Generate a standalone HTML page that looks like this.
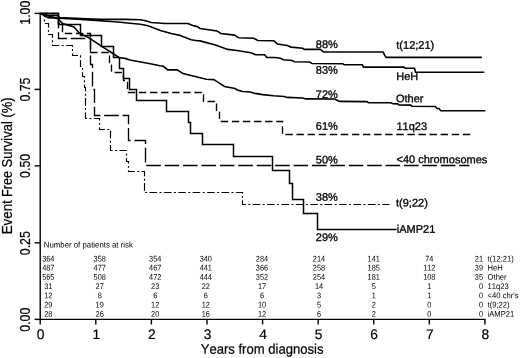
<!DOCTYPE html>
<html><head><meta charset="utf-8"><title>Event Free Survival</title>
<style>
html,body{margin:0;padding:0;background:#fff;}
body{width:520px;height:358px;overflow:hidden;}
svg{display:block;font-family:"Liberation Sans",sans-serif;will-change:transform;}
.c path{fill:none;stroke:#000;stroke-linejoin:miter;}
.a path{fill:none;stroke:#000;stroke-width:1.4;}
text{fill:#000;font-kerning:none;}
.t text{stroke:#000;}
.t{stroke-width:0.2;}
</style></head><body>
<svg width="520" height="358" viewBox="0 0 520 358">
<defs><filter id="b" x="0" y="0" width="520" height="358" filterUnits="userSpaceOnUse"><feGaussianBlur stdDeviation="0.35 0.12"/></filter></defs>
<rect width="520" height="358" fill="#fff"/>
<g filter="url(#b)">
<g class="a">
<path d="M40.2,12.7V319.4H485.6" />
<path d="M34.6,319.4H40.2"/>
<path d="M34.6,242.8H40.2"/>
<path d="M34.6,165.8H40.2"/>
<path d="M34.6,89.4H40.2"/>
<path d="M34.6,13.4H40.2"/>
<path d="M40.2,319.4V324.4"/>
<path d="M95.8,319.4V324.4"/>
<path d="M151.4,319.4V324.4"/>
<path d="M207.0,319.4V324.4"/>
<path d="M262.6,319.4V324.4"/>
<path d="M318.2,319.4V324.4"/>
<path d="M373.7,319.4V324.4"/>
<path d="M429.3,319.4V324.4"/>
<path d="M484.9,319.4V324.4"/>
</g>
<g class="c" stroke-width="1.5">
<path d="M40.2,13.4L46.0,15.3L57.8,15.6L59.5,17.5L81.0,18.6L99.5,19.3L118.0,19.4L125.0,19.4L140.4,19.7L146.5,20.9L151.2,22.5L165.0,23.5L188.0,23.5L192.7,25.5L197.3,26.6L200.0,28.5L217.0,30.9L220.8,33.5L234.6,35.1L238.5,37.8L253.8,38.2L257.7,40.5L273.8,40.8L275.5,42.2L277.3,44.0L287.3,45.5L291.2,47.1L302.7,48.2L304.2,49.4L320.4,49.4L323.5,52.0L383.1,52.0L384.6,55.1L386.2,57.4L481.8,57.4" stroke-width="1.6"/>
<path d="M40.2,13.4L48.0,17.6L58.8,18.2L81.0,19.4L99.5,20.6L118.0,22.0L125.0,22.8L140.4,24.3L148.0,25.8L160.4,30.5L171.2,33.5L178.8,35.1L191.2,39.7L197.3,40.8L200.0,40.9L215.4,45.1L227.7,49.4L236.9,50.5L250.8,52.8L255.4,54.6L264.6,54.8L266.9,57.5L275.0,57.5L280.4,58.2L283.5,59.7L292.0,60.5L294.2,61.7L309.6,62.0L312.0,63.5L342.7,63.8L344.2,64.7L362.3,64.7L363.5,67.1L403.8,67.1L405.4,68.2L414.5,68.2L415.6,72.3L484.3,72.3" stroke-width="1.6"/>
<path d="M40.2,13.4L58.0,18.8L62.6,23.6L74.0,27.0L79.5,33.4L88.6,37.6L101.0,45.8L113.7,54.0L118.9,57.5L125.0,58.4L130.0,60.0L150.3,63.8L160.0,65.8L163.0,66.1L167.7,69.9L177.0,69.9L183.0,73.5L206.2,79.3L213.8,79.6L218.5,82.7L224.6,86.5L235.0,88.5L237.3,90.0L242.7,91.5L250.4,92.0L255.0,93.4L262.7,94.6L273.5,95.8L284.2,96.5L287.3,97.4L302.7,98.0L305.8,98.9L334.6,99.0L339.6,101.4L366.9,101.6L368.5,102.7L390.8,102.8L393.0,103.8L397.7,103.9L399.0,105.0L410.8,105.1L412.0,106.3L435.4,106.5L437.0,108.4L439.0,108.6L440.8,110.8L485.4,110.8" stroke-width="1.6"/>
<path d="M40.5,13.5H58.5V24.5H80.5V35.5H101.5V46.5H113.5V57.5H119.5V68.5H123.5V78.5H129.5V89.5H136.5V100.5H166.5V111.5H188.5V122.5H190.5V133.5H202.5V144.5H233.5V156.5H272.5V170.5H289.5V183.5H292.5V199.5H303.5V213.5H317.5V229.5H396.5"/>
<path d="M40.5,13.5H58.5V23.5H62.5V33.5H90.5V52.5H109.5V62.5H111.5V72.5H123.5V80.5H127.5V92.5H203.5V101.5H216.5V111.5H219.5V121.5H282.5V134.5H470.5" stroke-dasharray="7.379 3.709" stroke-width="1.35"/>
<path d="M40.5,13.5H58.5V38.5H90.5V64.5H92.5V89.5H94.5V115.5H128.5V140.5H145.5V165.5H469.5" stroke-dasharray="14.561 3.85" stroke-width="1.35"/>
<path d="M40.5,13.5H44.5V23.5H48.5V34.5H52.5V45.5H72.5V55.5H80.5V66.5H82.5V76.5H84.5V87.5H85.5V97.5H85.5V108.5H85.5V118.5H99.5V129.5H110.5V150.5H126.5V161.5H128.5V171.5H144.5V192.5H242.5V204.5H389.5" stroke-dasharray="7.526 2.459 1.957 2.459" stroke-width="1.15"/>
</g>
<g class="t">
<text transform="translate(40.7,338.9) rotate(0.03)" font-size="13.8" text-anchor="middle">0</text>
<text transform="translate(96.3,338.9) rotate(0.03)" font-size="13.8" text-anchor="middle">1</text>
<text transform="translate(151.9,338.9) rotate(0.03)" font-size="13.8" text-anchor="middle">2</text>
<text transform="translate(207.5,338.9) rotate(0.03)" font-size="13.8" text-anchor="middle">3</text>
<text transform="translate(263.1,338.9) rotate(0.03)" font-size="13.8" text-anchor="middle">4</text>
<text transform="translate(318.7,338.9) rotate(0.03)" font-size="13.8" text-anchor="middle">5</text>
<text transform="translate(374.2,338.9) rotate(0.03)" font-size="13.8" text-anchor="middle">6</text>
<text transform="translate(429.8,338.9) rotate(0.03)" font-size="13.8" text-anchor="middle">7</text>
<text transform="translate(485.4,338.9) rotate(0.03)" font-size="13.8" text-anchor="middle">8</text>
<text transform="translate(29.5,319.7) rotate(-90) scale(0.95,1.13)" font-size="13" text-anchor="middle">0.00</text>
<text transform="translate(29.5,243.2) rotate(-90) scale(0.95,1.13)" font-size="13" text-anchor="middle">0.25</text>
<text transform="translate(29.5,165.9) rotate(-90) scale(0.95,1.13)" font-size="13" text-anchor="middle">0.50</text>
<text transform="translate(29.5,89.6) rotate(-90) scale(0.95,1.13)" font-size="13" text-anchor="middle">0.75</text>
<text transform="translate(29.5,12.7) rotate(-90) scale(0.95,1.13)" font-size="13" text-anchor="middle">1.00</text>
<text transform="translate(262.1,353.8) rotate(0.03) scale(1,1.07)" font-size="13.1" text-anchor="middle">Years from diagnosis</text>
<text transform="translate(11.9,234.3) rotate(-90) scale(1.027,1.06)" font-size="13">Event</text>
<text transform="translate(11.9,196.9) rotate(-90) scale(0.97,1.06)" font-size="13">Free</text>
<text transform="translate(11.9,167.4) rotate(-90) scale(1.0,1.06)" font-size="13">Survival</text>
<text transform="translate(11.9,117.6) rotate(-90) scale(1.0,1.06)" font-size="13">(%)</text>
<text transform="translate(315.8,48.1) rotate(0.03)" font-size="11" stroke-width="0.32">88%</text>
<text transform="translate(315.8,73.7) rotate(0.03)" font-size="11" stroke-width="0.32">83%</text>
<text transform="translate(315.8,98.0) rotate(0.03)" font-size="11" stroke-width="0.32">72%</text>
<text transform="translate(315.8,129.8) rotate(0.03)" font-size="11" stroke-width="0.32">61%</text>
<text transform="translate(315.8,163.6) rotate(0.03)" font-size="11" stroke-width="0.32">50%</text>
<text transform="translate(315.8,200.7) rotate(0.03)" font-size="11" stroke-width="0.32">38%</text>
<text transform="translate(315.8,240.9) rotate(0.03)" font-size="11" stroke-width="0.32">29%</text>
<text transform="translate(396.3,48.8) rotate(0.03)" font-size="11" stroke-width="0.32">t(12;21)</text>
<text transform="translate(396.3,80.0) rotate(0.03)" font-size="11" stroke-width="0.32">HeH</text>
<text transform="translate(396,102.3) rotate(0.03)" font-size="11" stroke-width="0.32">Other</text>
<text transform="translate(396.5,130.0) rotate(0.03)" font-size="11" stroke-width="0.32">11q23</text>
<text transform="translate(396.5,163.1) rotate(0.03)" font-size="11" stroke-width="0.32">&lt;40 chromosomes</text>
<text transform="translate(396,206.4) rotate(0.03)" font-size="11" stroke-width="0.32">t(9;22)</text>
<text transform="translate(396.8,232.7) rotate(0.03)" font-size="11" stroke-width="0.32">iAMP21</text>
</g>
<g>
<text transform="translate(43.8,247.5) rotate(0.03) scale(0.955,1)" font-size="8.2">Number of patients at risk</text>
<text transform="translate(48.3,261.5) rotate(0.03) scale(0.9,1)" font-size="8.2" text-anchor="middle">364</text>
<text transform="translate(99.7,261.5) rotate(0.03) scale(0.9,1)" font-size="8.2" text-anchor="middle">358</text>
<text transform="translate(155.2,261.5) rotate(0.03) scale(0.9,1)" font-size="8.2" text-anchor="middle">354</text>
<text transform="translate(205.8,261.5) rotate(0.03) scale(0.9,1)" font-size="8.2" text-anchor="middle">340</text>
<text transform="translate(262,261.5) rotate(0.03) scale(0.9,1)" font-size="8.2" text-anchor="middle">284</text>
<text transform="translate(319,261.5) rotate(0.03) scale(0.9,1)" font-size="8.2" text-anchor="middle">214</text>
<text transform="translate(373.7,261.5) rotate(0.03) scale(0.9,1)" font-size="8.2" text-anchor="middle">141</text>
<text transform="translate(429.3,261.5) rotate(0.03) scale(0.9,1)" font-size="8.2" text-anchor="middle">74</text>
<text transform="translate(483,261.5) rotate(0.03) scale(0.9,1)" font-size="8.2" text-anchor="end">21</text>
<text transform="translate(487.6,261.5) rotate(0.03) scale(0.93,1)" font-size="8.2">t(12;21)</text>
<text transform="translate(48.3,270.6) rotate(0.03) scale(0.9,1)" font-size="8.2" text-anchor="middle">487</text>
<text transform="translate(99.7,270.6) rotate(0.03) scale(0.9,1)" font-size="8.2" text-anchor="middle">477</text>
<text transform="translate(155.2,270.6) rotate(0.03) scale(0.9,1)" font-size="8.2" text-anchor="middle">467</text>
<text transform="translate(205.8,270.6) rotate(0.03) scale(0.9,1)" font-size="8.2" text-anchor="middle">441</text>
<text transform="translate(262,270.6) rotate(0.03) scale(0.9,1)" font-size="8.2" text-anchor="middle">366</text>
<text transform="translate(319,270.6) rotate(0.03) scale(0.9,1)" font-size="8.2" text-anchor="middle">258</text>
<text transform="translate(373.7,270.6) rotate(0.03) scale(0.9,1)" font-size="8.2" text-anchor="middle">185</text>
<text transform="translate(429.3,270.6) rotate(0.03) scale(0.9,1)" font-size="8.2" text-anchor="middle">112</text>
<text transform="translate(483,270.6) rotate(0.03) scale(0.9,1)" font-size="8.2" text-anchor="end">39</text>
<text transform="translate(487.6,270.6) rotate(0.03) scale(0.93,1)" font-size="8.2">HeH</text>
<text transform="translate(48.3,279.8) rotate(0.03) scale(0.9,1)" font-size="8.2" text-anchor="middle">565</text>
<text transform="translate(99.7,279.8) rotate(0.03) scale(0.9,1)" font-size="8.2" text-anchor="middle">508</text>
<text transform="translate(155.2,279.8) rotate(0.03) scale(0.9,1)" font-size="8.2" text-anchor="middle">472</text>
<text transform="translate(205.8,279.8) rotate(0.03) scale(0.9,1)" font-size="8.2" text-anchor="middle">444</text>
<text transform="translate(262,279.8) rotate(0.03) scale(0.9,1)" font-size="8.2" text-anchor="middle">352</text>
<text transform="translate(319,279.8) rotate(0.03) scale(0.9,1)" font-size="8.2" text-anchor="middle">254</text>
<text transform="translate(373.7,279.8) rotate(0.03) scale(0.9,1)" font-size="8.2" text-anchor="middle">181</text>
<text transform="translate(429.3,279.8) rotate(0.03) scale(0.9,1)" font-size="8.2" text-anchor="middle">108</text>
<text transform="translate(483,279.8) rotate(0.03) scale(0.9,1)" font-size="8.2" text-anchor="end">35</text>
<text transform="translate(487.6,279.8) rotate(0.03) scale(0.93,1)" font-size="8.2">Other</text>
<text transform="translate(48.3,289.1) rotate(0.03) scale(0.9,1)" font-size="8.2" text-anchor="middle">31</text>
<text transform="translate(99.7,289.1) rotate(0.03) scale(0.9,1)" font-size="8.2" text-anchor="middle">27</text>
<text transform="translate(155.2,289.1) rotate(0.03) scale(0.9,1)" font-size="8.2" text-anchor="middle">23</text>
<text transform="translate(205.8,289.1) rotate(0.03) scale(0.9,1)" font-size="8.2" text-anchor="middle">22</text>
<text transform="translate(262,289.1) rotate(0.03) scale(0.9,1)" font-size="8.2" text-anchor="middle">17</text>
<text transform="translate(319,289.1) rotate(0.03) scale(0.9,1)" font-size="8.2" text-anchor="middle">14</text>
<text transform="translate(373.7,289.1) rotate(0.03) scale(0.9,1)" font-size="8.2" text-anchor="middle">5</text>
<text transform="translate(429.3,289.1) rotate(0.03) scale(0.9,1)" font-size="8.2" text-anchor="middle">1</text>
<text transform="translate(483,289.1) rotate(0.03) scale(0.9,1)" font-size="8.2" text-anchor="end">0</text>
<text transform="translate(487.6,289.1) rotate(0.03) scale(0.93,1)" font-size="8.2">11q23</text>
<text transform="translate(48.3,298.3) rotate(0.03) scale(0.9,1)" font-size="8.2" text-anchor="middle">12</text>
<text transform="translate(99.7,298.3) rotate(0.03) scale(0.9,1)" font-size="8.2" text-anchor="middle">8</text>
<text transform="translate(155.2,298.3) rotate(0.03) scale(0.9,1)" font-size="8.2" text-anchor="middle">6</text>
<text transform="translate(205.8,298.3) rotate(0.03) scale(0.9,1)" font-size="8.2" text-anchor="middle">6</text>
<text transform="translate(262,298.3) rotate(0.03) scale(0.9,1)" font-size="8.2" text-anchor="middle">6</text>
<text transform="translate(319,298.3) rotate(0.03) scale(0.9,1)" font-size="8.2" text-anchor="middle">3</text>
<text transform="translate(373.7,298.3) rotate(0.03) scale(0.9,1)" font-size="8.2" text-anchor="middle">1</text>
<text transform="translate(429.3,298.3) rotate(0.03) scale(0.9,1)" font-size="8.2" text-anchor="middle">1</text>
<text transform="translate(483,298.3) rotate(0.03) scale(0.9,1)" font-size="8.2" text-anchor="end">0</text>
<text transform="translate(487.6,298.3) rotate(0.03) scale(0.93,1)" font-size="8.2">&lt;40 chr's</text>
<text transform="translate(48.3,307.5) rotate(0.03) scale(0.9,1)" font-size="8.2" text-anchor="middle">29</text>
<text transform="translate(99.7,307.5) rotate(0.03) scale(0.9,1)" font-size="8.2" text-anchor="middle">19</text>
<text transform="translate(155.2,307.5) rotate(0.03) scale(0.9,1)" font-size="8.2" text-anchor="middle">12</text>
<text transform="translate(205.8,307.5) rotate(0.03) scale(0.9,1)" font-size="8.2" text-anchor="middle">12</text>
<text transform="translate(262,307.5) rotate(0.03) scale(0.9,1)" font-size="8.2" text-anchor="middle">10</text>
<text transform="translate(319,307.5) rotate(0.03) scale(0.9,1)" font-size="8.2" text-anchor="middle">5</text>
<text transform="translate(373.7,307.5) rotate(0.03) scale(0.9,1)" font-size="8.2" text-anchor="middle">2</text>
<text transform="translate(429.3,307.5) rotate(0.03) scale(0.9,1)" font-size="8.2" text-anchor="middle">0</text>
<text transform="translate(483,307.5) rotate(0.03) scale(0.9,1)" font-size="8.2" text-anchor="end">0</text>
<text transform="translate(487.6,307.5) rotate(0.03) scale(0.93,1)" font-size="8.2">t(9;22)</text>
<text transform="translate(48.3,316.7) rotate(0.03) scale(0.9,1)" font-size="8.2" text-anchor="middle">28</text>
<text transform="translate(99.7,316.7) rotate(0.03) scale(0.9,1)" font-size="8.2" text-anchor="middle">26</text>
<text transform="translate(155.2,316.7) rotate(0.03) scale(0.9,1)" font-size="8.2" text-anchor="middle">20</text>
<text transform="translate(205.8,316.7) rotate(0.03) scale(0.9,1)" font-size="8.2" text-anchor="middle">16</text>
<text transform="translate(262,316.7) rotate(0.03) scale(0.9,1)" font-size="8.2" text-anchor="middle">12</text>
<text transform="translate(319,316.7) rotate(0.03) scale(0.9,1)" font-size="8.2" text-anchor="middle">6</text>
<text transform="translate(373.7,316.7) rotate(0.03) scale(0.9,1)" font-size="8.2" text-anchor="middle">2</text>
<text transform="translate(429.3,316.7) rotate(0.03) scale(0.9,1)" font-size="8.2" text-anchor="middle">0</text>
<text transform="translate(483,316.7) rotate(0.03) scale(0.9,1)" font-size="8.2" text-anchor="end">0</text>
<text transform="translate(487.6,316.7) rotate(0.03) scale(0.93,1)" font-size="8.2">iAMP21</text>
</g>
</g>
</svg>
</body></html>
